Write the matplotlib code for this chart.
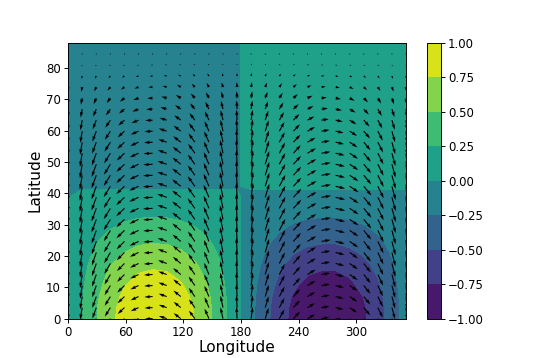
import numpy as np
import matplotlib
matplotlib.use("Agg")
import matplotlib.pyplot as plt

# grid coordinates (degrees)
lon = [0, 14.67, 29.33, 44, 58.67, 73.33, 88, 102.67, 117.33, 132, 146.67, 161.33,
       176, 190.67, 205.33, 220, 234.67, 249.33, 264, 278.67, 293.33, 308, 322.67,
       337.33, 352]
lat = [0, 3.52, 7.04, 10.56, 14.08, 17.6, 21.12, 24.64, 28.16, 31.68, 35.2, 38.72,
       42.24, 45.76, 49.28, 52.8, 56.32, 59.84, 63.36, 66.88, 70.4, 73.92, 77.44,
       80.96, 84.48, 88.0]

# scalar field: longitude and latitude profiles
field_lon = [0, 0.25, 0.49, 0.69, 0.85, 0.96, 1.0, 0.98, 0.89, 0.74, 0.55, 0.32,
             0.07, -0.19, -0.43, -0.64, -0.82, -0.94, -0.99, -0.99, -0.92, -0.79,
             -0.61, -0.39, -0.14]
field_lat = [1.0, 0.985, 0.94, 0.87, 0.79, 0.70, 0.59, 0.48, 0.37, 0.27, 0.17, 0.07,
             -0.03, -0.08, -0.11, -0.13, -0.14, -0.15, -0.15, -0.14, -0.13, -0.11,
             -0.09, -0.07, -0.05, -0.03]

# wind: zonal/meridional longitude profiles and latitude amplitudes (pixels)
u_lon = [-x for x in field_lon]
v_lon = [-1.0, -0.967, -0.872, -0.719, -0.52, -0.286, -0.035, 0.219, 0.459, 0.669,
         0.836, 0.948, 0.998, 0.983, 0.904, 0.766, 0.578, 0.353, 0.105, -0.150,
         -0.397, -0.616, -0.795, -0.923, -0.990]
u_lat = [8, 8, 8.2, 8.4, 8.6, 8.8, 9, 9.2, 9.4, 9.5, 9.6, 9.6, 9.6, 9.5, 9.3, 9.0,
         8.5, 8.0, 7.3, 6.4, 5.4, 4.2, 3.0, 1.8, 0.8, 0.2]
v_lat = [12, 12.5, 13, 13.5, 14, 14.5, 15, 15, 15, 15, 15, 15, 15, 14.8, 14.5, 14,
         13, 12, 10.5, 8.7, 6.9, 5.0, 3.1, 1.6, 0.6, 0.2]

levels = [-1.0, -0.75, -0.5, -0.25, 0.0, 0.25, 0.5, 0.75, 1.0]
xticks = [0, 60, 120, 180, 240, 300]
yticks = [0, 10, 20, 30, 40, 50, 60, 70, 80]

field = np.outer(field_lat, field_lon)
u = np.outer(u_lat, u_lon)
v = np.outer(v_lat, v_lon)

DPI = 85
fig = plt.figure(figsize=(545 / DPI, 358 / DPI), dpi=DPI)
ax = fig.add_subplot(111)
cs = ax.contourf(lon, lat, field, levels=levels, cmap="viridis")
ax.quiver(lon, lat, u, v, scale=DPI, scale_units="inches", width=0.0033)
cb = fig.colorbar(cs, ax=ax)
ax.set_xticks(xticks)
ax.set_yticks(yticks)
ax.tick_params(pad=2.5)
cb.ax.tick_params(pad=2.5)
ax.set_xlabel("Longitude", fontsize=13, labelpad=1)
ax.set_ylabel("Latitude", fontsize=13, labelpad=3)
fig.savefig("out.png", dpi=DPI)
